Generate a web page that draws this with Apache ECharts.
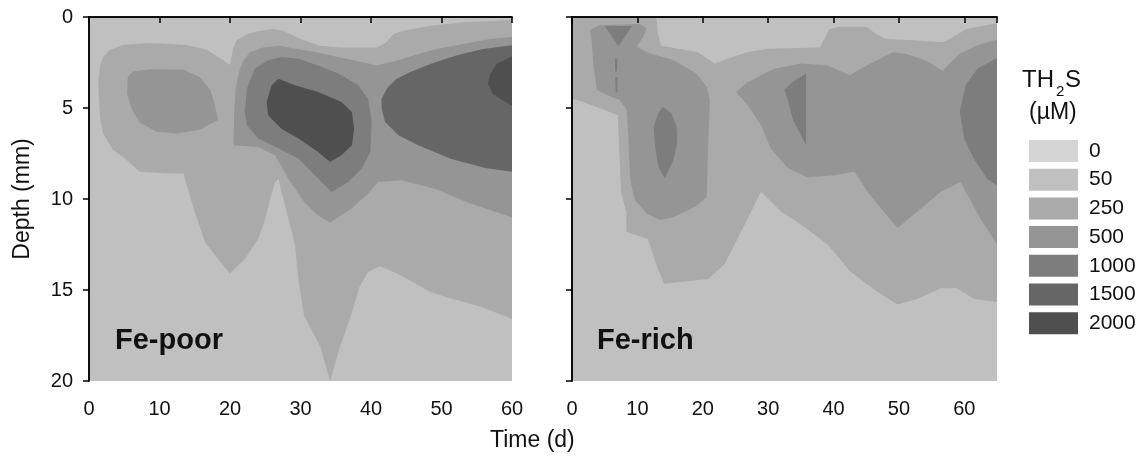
<!DOCTYPE html>
<html>
<head>
<meta charset="utf-8">
<script src="https://cdn.jsdelivr.net/npm/echarts@6/dist/echarts.min.js"></script>
<style>
html,body{margin:0;padding:0;background:#fff;}
#chart{width:1142px;height:456px;}
</style>
</head>
<body>
<div id="chart"></div>
<script>
// ---- Data (Time in d, Depth in mm) ----
const LEVELS = ['0', '50', '250', '500', '1000', '1500', '2000'];
const LEVEL_COLORS = ['#d5d5d5', '#c0c0c0', '#aaaaaa', '#959595', '#7d7d7d', '#666666', '#4f4f4f'];
const X_TICKS_POOR = [0, 10, 20, 30, 40, 50, 60];
const X_TICKS_RICH = [0, 10, 20, 30, 40, 50, 60];
const Y_TICKS = [0, 5, 10, 15, 20];

// Fe-poor contour regions
const poor50 = [[0, 0], [60, 0], [60, 20], [0, 20]];
const poor250 = [[1.3,3.6],[1.56,2.7],[2.0,2.2],[3.0,1.8],[4.8,1.54],[7.7,1.44],[10.5,1.45],[13.9,1.54],[16.7,1.8],[19.0,2.36],[20.0,2.64],[20.4,1.8],[20.9,1.3],[22.4,0.93],[24.3,0.75],[26.1,0.66],[27.6,0.75],[29.5,1.12],[31.3,1.39],[32.8,1.58],[35.6,1.67],[40.8,1.67],[42.2,1.39],[43.2,0.93],[44.6,0.75],[48.4,0.48],[53.1,0.29],[60,0.16],[60,16.6],[55.5,15.9],[50.7,15.4],[48.4,15.1],[43.7,14.1],[41.3,13.7],[39.6,14.0],[38.4,14.8],[37.0,16.6],[35.6,18.1],[34.2,20],[32.8,18.1],[30.5,16.4],[29.7,14.4],[29.2,12.5],[28.3,11.1],[27.3,9.6],[26.9,8.9],[26.4,9.07],[25.7,10.0],[25.0,11.1],[24.0,12.2],[22.1,13.3],[20.0,14.1],[18.3,13.3],[16.5,12.4],[15.0,10.7],[13.6,8.9],[13.4,8.6],[11.9,8.6],[7.2,8.5],[5.3,7.85],[3.4,7.3],[2.0,6.4],[1.56,5.5]];
const poor500Left = [[5.5,3.3],[6.2,3.0],[8.7,2.87],[13.4,2.9],[15.7,3.3],[17.2,4.0],[17.9,4.9],[18.3,5.66],[17.6,5.8],[15.7,6.2],[12.5,6.4],[9.6,6.3],[7.2,5.8],[6.1,5.1],[5.4,4.2]];
const poor500Main = [[20.5,7.05],[20.6,5.2],[20.8,3.9],[21.4,2.84],[21.9,2.4],[22.8,1.94],[24.7,1.67],[27.1,1.58],[29.5,1.76],[32.3,1.94],[35.6,2.22],[38.9,2.49],[40.8,2.67],[43.6,2.4],[46.0,2.12],[49.3,1.76],[53.1,1.48],[56.9,1.21],[60,1.1],[60,11.0],[53.8,10.2],[49.1,9.43],[44.3,8.97],[41.0,9.07],[39.6,9.7],[37.3,10.5],[34.2,11.3],[32.5,10.9],[30.6,10.2],[28.3,8.9],[26.4,7.6],[24.0,7.14]];
const poor1000 = [[22.1,5.2],[22.4,3.94],[23.5,2.84],[25.4,2.38],[27.3,2.2],[29.7,2.29],[32.5,2.66],[35.4,3.11],[38.2,3.75],[39.6,4.49],[40.1,5.77],[39.9,7.42],[38.7,8.33],[36.8,9.07],[34.4,9.62],[32.5,8.88],[29.7,7.78],[26.9,7.23],[24.0,6.68],[22.4,5.95]];
const poor1500 = [[41.5,4.5],[42.3,3.9],[43.6,3.4],[45.5,3.04],[48.4,2.58],[52.2,2.1],[55.9,1.76],[60,1.55],[60,8.5],[56.2,8.3],[51.4,7.8],[46.7,7.05],[43.9,6.5],[42.0,5.77],[41.5,5.0]];
const poor2000Core = [[25.2,4.67],[25.9,3.75],[26.9,3.39],[29.2,3.75],[32.5,4.12],[35.8,4.67],[37.3,5.22],[37.6,6.14],[37.3,7.05],[35.8,7.6],[34.2,7.97],[32.5,7.42],[29.7,6.68],[27.3,6.14],[25.4,5.4]];
const poor2000Edge = [[60,2.15],[57.8,2.58],[56.9,3.13],[56.6,3.68],[57.3,4.23],[58.8,4.6],[60,4.87]];

// Fe-rich contour regions
const rich50 = [[0, 0], [65, 0], [65, 20], [0, 20]];
const rich250 = [[0,0],[12.9,0],[13.1,0.82],[13.6,1.56],[16.2,1.74],[19.2,1.92],[21.8,2.56],[23.8,2.29],[26.9,1.92],[29.9,1.75],[37.9,1.67],[39.4,0.66],[40.9,0.53],[45.0,0.53],[46.5,0.93],[48.0,1.21],[51.6,1.26],[56.7,1.39],[58.2,1.12],[60.3,0.66],[64.3,0.38],[65,0.35],[65,15.66],[61.5,15.5],[58.9,14.9],[56.4,14.9],[52.8,15.5],[49.8,15.8],[46.7,15.1],[42.6,14.0],[39.1,12.5],[35.0,11.4],[32.0,10.7],[28.9,9.6],[27.4,10.7],[25.3,12.2],[23.3,13.6],[20.8,14.4],[14.1,14.65],[13.1,13.8],[11.6,12.2],[8.3,11.8],[8.3,10.7],[7.5,9.6],[7.0,5.4],[4.5,5.04],[0.9,4.58],[0,4.5]];
const rich500Left = [[2.75,0.71],[4.27,0.44],[10.4,0.38],[11.4,0.62],[10.9,1.08],[9.9,1.63],[11.9,2.0],[15.5,2.36],[19.0,3.1],[20.6,3.83],[21.1,4.56],[20.8,7.3],[20.6,9.87],[19.0,10.4],[15.5,11.0],[13.4,11.15],[11.4,10.8],[9.6,10.05],[8.9,8.96],[8.6,6.4],[8.35,5.1],[7.3,4.56],[5.3,4.29],[3.8,4.0],[3.3,2.73],[3.0,1.26]];
const rich500Right = [[25.1,4.12],[26.9,3.57],[30.9,2.84],[35.0,2.56],[39.1,2.66],[42.5,3.2],[45.5,2.58],[49.1,1.94],[51.1,2.03],[54.2,2.4],[56.7,2.95],[59.2,2.03],[61.8,1.58],[64.3,1.3],[65,1.25],[65,12.5],[62.5,11.1],[59.4,9.07],[56.4,9.6],[52.8,10.7],[49.8,11.6],[47.2,10.5],[45.2,9.6],[43.2,8.5],[40.1,8.7],[36.0,8.8],[33.0,8.3],[30.4,7.23],[28.9,5.95],[26.9,4.85]];
const rich1000Top = [[5.0,0.5],[9.2,0.5],[7.1,1.6]];
const rich1000DashA = [[6.55,2.3],[6.95,2.3],[6.9,3.0],[6.6,3.0]];
const rich1000DashB = [[6.6,3.3],[6.95,3.3],[6.95,4.1],[6.7,4.2]];
const rich1000Oval = [[13.9,4.93],[15.2,5.29],[16.0,6.03],[16.1,6.94],[15.5,7.86],[14.2,8.86],[13.2,8.22],[12.7,7.12],[12.5,6.03],[13.2,5.29]];
const rich1000Wedge = [[35.8,3.1],[35.8,7.03],[33.8,5.66],[33.0,4.56],[32.5,4.0],[33.8,3.55]];
const rich1000Edge = [[65,2.25],[62,2.84],[60.2,3.75],[59.3,5.2],[60,6.7],[61.5,7.8],[63.5,8.9],[65,9.25]];

// regions per panel, per level (index into LEVELS)
const POOR_REGIONS = [[], [poor50], [poor250], [poor500Left, poor500Main], [poor1000], [poor1500], [poor2000Core, poor2000Edge]];
const RICH_REGIONS = [[], [rich50], [rich250], [rich500Left, rich500Right], [rich1000Top, rich1000DashA, rich1000DashB, rich1000Oval, rich1000Wedge, rich1000Edge], [], []];

const FONT = '"Liberation Sans", Arial, Helvetica, sans-serif';
const chart = echarts.init(document.getElementById('chart'), null, {renderer: 'canvas'});

function regionSeries(panel, regions) {
  const axisIdx = panel * 2;
  return LEVELS.map((lvl, li) => {
    const polys = regions[li];
    const color = LEVEL_COLORS[li];
    return {
      type: 'custom',
      name: lvl,
      coordinateSystem: 'cartesian2d',
      xAxisIndex: axisIdx,
      yAxisIndex: axisIdx,
      clip: true,
      silent: true,
      itemStyle: {color: color},
      z: 2 + li,
      data: polys.map(p => p[0]),
      renderItem: function (params, api) {
        const poly = polys[params.dataIndex];
        return {
          type: 'polygon',
          shape: {points: poly.map(pt => api.coord(pt))},
          style: {fill: color, stroke: null}
        };
      }
    };
  });
}

function xAxes(gi, max) {
  const line = {show: true, lineStyle: {color: '#000', width: 1.5}};
  return [
    {gridIndex: gi, type: 'value', position: 'bottom', min: 0, max: max, interval: 10, z: 10,
      axisLine: line, axisTick: {show: true, inside: false, length: 6, lineStyle: {color: '#000', width: 1.5}},
      axisLabel: {fontSize: 20, color: '#111', margin: 18, fontFamily: FONT,
        formatter: v => ((gi === 0 ? X_TICKS_POOR : X_TICKS_RICH).indexOf(v) >= 0 ? String(v) : '')},
      splitLine: {show: false}},
    {gridIndex: gi, type: 'value', position: 'top', min: 0, max: max, z: 10,
      axisLine: line, axisTick: {show: false}, axisLabel: {show: false}, splitLine: {show: false}}
  ];
}
function yAxes(gi, showLabels) {
  const line = {show: true, lineStyle: {color: '#000', width: 1.5}};
  const main = {gridIndex: gi, type: 'value', position: 'left', inverse: true, min: 0, max: 20, interval: 5, z: 10,
    axisLine: line, axisTick: {show: true, inside: false, length: 6, lineStyle: {color: '#000', width: 1.5}},
    axisLabel: {show: showLabels, fontSize: 20, color: '#111', margin: 16, fontFamily: FONT,
      formatter: v => (Y_TICKS.indexOf(v) >= 0 ? String(v) : '')},
    splitLine: {show: false}};
  if (showLabels) {
    main.name = 'Depth (mm)';
    main.nameLocation = 'middle';
    main.nameGap = 55;
    main.nameTextStyle = {fontSize: 23, color: '#111', fontFamily: FONT};
  }
  return [main,
    {gridIndex: gi, type: 'value', position: 'right', inverse: true, min: 0, max: 20, z: 10,
      axisLine: line, axisTick: {show: false}, axisLabel: {show: false}, splitLine: {show: false}}];
}

const option = {
  animation: false,
  backgroundColor: '#ffffff',
  textStyle: {fontFamily: FONT},
  grid: [
    {left: 89, top: 17, width: 423, height: 364},
    {left: 572, top: 17, width: 425, height: 364}
  ],
  xAxis: [].concat(xAxes(0, 60), xAxes(1, 65)),
  yAxis: [].concat(yAxes(0, true), yAxes(1, false)),
  legend: {
    data: LEVELS,
    orient: 'vertical',
    left: 1029,
    top: 140,
    padding: 0,
    itemWidth: 49,
    itemHeight: 22,
    itemGap: 6.7,
    icon: 'rect',
    selectedMode: false,
    textStyle: {fontSize: 21, color: '#111', fontFamily: FONT, padding: [0, 0, 0, 6]}
  },
  title: {
    text: 'Time (d)',
    left: 490,
    top: 429,
    padding: 0,
    textStyle: {fontSize: 23, fontWeight: 'normal', color: '#111', fontFamily: FONT}
  },
  graphic: [
    {type: 'text', z: 100, zlevel: 1, left: 115, top: 326, style: {text: 'Fe-poor', font: 'bold 29px ' + FONT, fill: '#111'}},
    {type: 'text', z: 100, zlevel: 1, left: 597, top: 326, style: {text: 'Fe-rich', font: 'bold 29px ' + FONT, fill: '#111'}},
    {type: 'text', z: 100, left: 1022, top: 68, style: {text: 'TH', font: '24px ' + FONT, fill: '#111'}},
    {type: 'text', z: 100, left: 1056, top: 84, style: {text: '2', font: '15px ' + FONT, fill: '#111'}},
    {type: 'text', z: 100, left: 1065, top: 68, style: {text: 'S', font: '24px ' + FONT, fill: '#111'}},
    {type: 'text', z: 100, left: 1029, top: 101, style: {text: '(µM)', font: '23px ' + FONT, fill: '#111'}}
  ],
  series: [].concat(regionSeries(0, POOR_REGIONS), regionSeries(1, RICH_REGIONS))
};
chart.setOption(option);
</script>
</body>
</html>
